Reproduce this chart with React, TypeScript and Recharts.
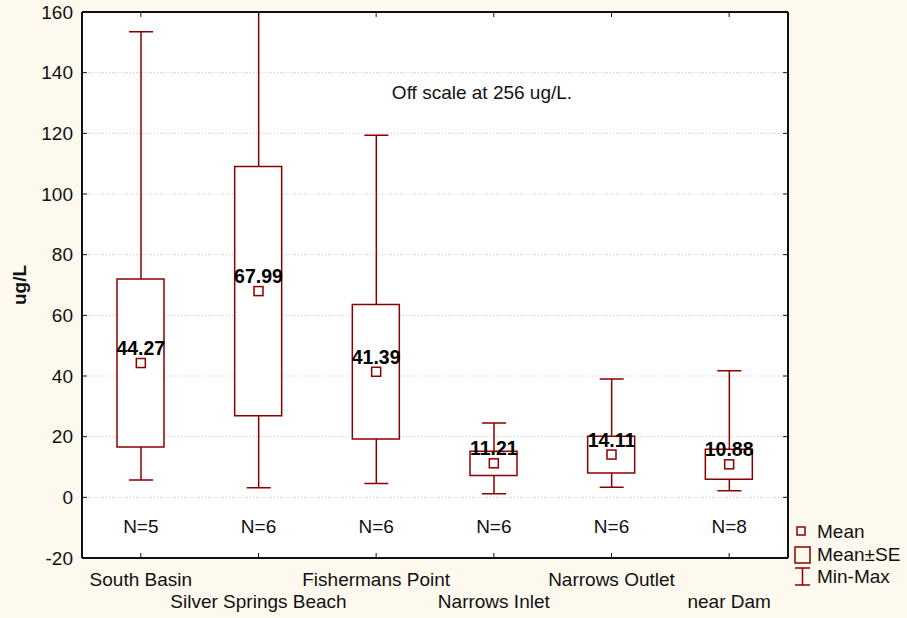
import React from "react";
import {
  Bar,
  CartesianGrid,
  ComposedChart,
  LabelList,
  Line,
  XAxis,
  YAxis,
} from "recharts";

const sites = [
  "South Basin",
  "Silver Springs Beach",
  "Fishermans Point",
  "Narrows Inlet",
  "Narrows Outlet",
  "near Dam",
];
const means = [44.27, 67.99, 41.39, 11.21, 14.11, 10.88];
const standardErrors = [27.7, 41.1, 22.2, 4.0, 6.05, 4.95];
const minima = [5.7, 3.2, 4.6, 1.2, 3.3, 2.2];
const maxima = [153.5, 256, 119.4, 24.5, 39.0, 41.7];
const counts = [5, 6, 6, 6, 6, 8];
const yTicks = [-20, 0, 20, 40, 60, 80, 100, 120, 140, 160];

const dark = "#8b0000";
const font = "'Liberation Sans', Arial, Helvetica, sans-serif";
const frame = { stroke: "#111", strokeWidth: 2 };

const data = sites.map((site, i) => ({
  site,
  mean: means[i],
  box: [means[i] - standardErrors[i], means[i] + standardErrors[i]],
  range: [minima[i], maxima[i]],
  n: counts[i],
}));

function Whisker(props: any) {
  const { x, y, width, height } = props;
  const cx = x + width / 2;
  return (
    <path
      d={`M${x},${y}H${x + width}M${cx},${y}V${y + height}M${x},${y + height}H${x + width}`}
      stroke={dark}
      strokeWidth={1.5}
      fill="none"
    />
  );
}

function MeanMarker(props: any) {
  const { cx, cy } = props;
  if (cx == null || cy == null) return null;
  return <rect x={cx - 4.5} y={cy - 4.5} width={9} height={9} fill="white" stroke={dark} strokeWidth={1.5} />;
}

function MeanLabel(props: any) {
  const { x, y, value } = props;
  return (
    <text x={x} y={y - 8} textAnchor="middle" fontFamily={font} fontSize={19.5} fontWeight="bold" fill="#000">
      {Number(value).toFixed(2)}
    </text>
  );
}

function SiteTick(props: any) {
  const { x, y, payload, index } = props;
  const row = index % 2 === 0 ? 28 : 50;
  return (
    <g>
      <text x={x} y={y - 25} textAnchor="middle" fontFamily={font} fontSize={19} fill="#111">
        N={counts[index]}
      </text>
      <text x={x} y={y + row} textAnchor="middle" fontFamily={font} fontSize={19} fill="#111">
        {payload.value}
      </text>
    </g>
  );
}

const noTick = () => <g />;

export default function App() {
  return (
    <div style={{ width: 907, height: 618, background: "#fdf9ee" }}>
      <style>{"body{margin:0}"}</style>
      <ComposedChart
        width={907}
        height={618}
        data={data}
        margin={{ top: 11, right: 118, bottom: 0, left: 0 }}
      >
        <CartesianGrid vertical={false} stroke="#c8c8c8" strokeDasharray="1 2" fill="#ffffff" />
        <XAxis
          dataKey="site"
          height={60}
          interval={0}
          tickSize={-5}
          tickMargin={5}
          tick={SiteTick}
          axisLine={frame}
          tickLine={{ stroke: "#111" }}
        />
        <XAxis
          xAxisId="top"
          dataKey="site"
          orientation="top"
          height={1}
          interval={0}
          tickSize={-5}
          tick={noTick}
          axisLine={frame}
          tickLine={{ stroke: "#111" }}
        />
        <XAxis xAxisId="w" dataKey="site" hide />
        <YAxis
          width={82}
          domain={[-20, 160]}
          ticks={yTicks}
          allowDataOverflow
          interval={0}
          tickSize={-5}
          tickMargin={14}
          tick={{ fontFamily: font, fontSize: 19, fill: "#111" }}
          axisLine={frame}
          tickLine={{ stroke: "#111" }}
        />
        <YAxis
          yAxisId="r"
          orientation="right"
          width={1}
          domain={[-20, 160]}
          ticks={yTicks}
          allowDataOverflow
          interval={0}
          tickSize={-5}
          tick={noTick}
          axisLine={frame}
          tickLine={{ stroke: "#111" }}
        />
        <Bar xAxisId="w" dataKey="range" barSize={24} shape={Whisker} isAnimationActive={false} />
        <Bar dataKey="box" barSize={47} fill="#ffffff" stroke={dark} strokeWidth={1.5} isAnimationActive={false} />
        <Line
          dataKey="mean"
          stroke="none"
          dot={MeanMarker}
          activeDot={false}
          isAnimationActive={false}
        >
          <LabelList dataKey="mean" content={MeanLabel} />
        </Line>
        <text x={482} y={99} textAnchor="middle" fontFamily={font} fontSize={19} fill="#111">
          Off scale at 256 ug/L.
        </text>
        <text
          x={26}
          y={285}
          transform="rotate(-90 26 285)"
          textAnchor="middle"
          fontFamily={font}
          fontSize={19}
          fontWeight="bold"
          fill="#111"
        >
          ug/L
        </text>
        <g fontFamily={font} fontSize={19} fill="#111">
          <rect x={797} y={527} width={8} height={8} fill="none" stroke={dark} strokeWidth={1.5} />
          <text x={817} y={538}>Mean</text>
          <rect x={795} y={547} width={15} height={16} fill="none" stroke={dark} strokeWidth={1.5} />
          <text x={817} y={561}>Mean±SE</text>
          <path d="M795,568H810M802.5,568V585M795,585H810" stroke={dark} strokeWidth={1.5} fill="none" />
          <text x={817} y={583}>Min-Max</text>
        </g>
      </ComposedChart>
    </div>
  );
}
